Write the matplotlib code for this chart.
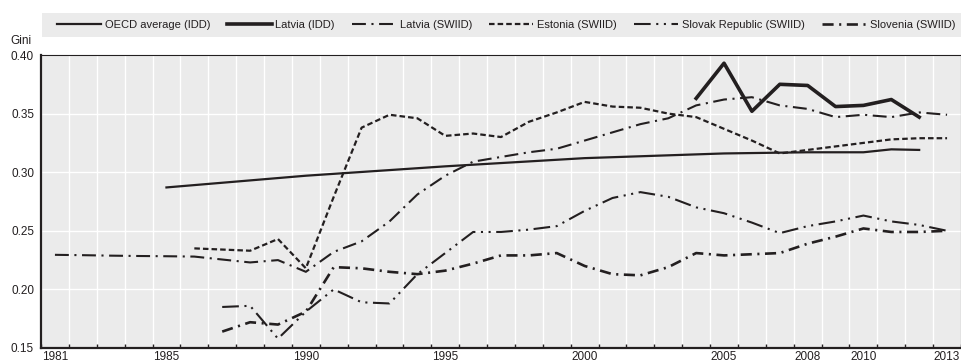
import matplotlib.pyplot as plt
import numpy as np
from matplotlib.patches import Rectangle

plt.rcParams['font.family'] = ['Liberation Sans Narrow', 'Liberation Sans', 'DejaVu Sans']
plt.rcParams['lines.scale_dashes'] = False

INK = '#231f20'
PANEL = '#ebebeb'

# OECD average (IDD)
oecd_years = [1985, 1990, 1995, 2000, 2005, 2008, 2009, 2010, 2011, 2012]
oecd_gini = [0.287, 0.297, 0.305, 0.312, 0.316, 0.317, 0.317, 0.317, 0.3195, 0.319]

# Latvia (IDD)
lva_idd_years = [2004, 2005, 2006, 2007, 2008, 2009, 2010, 2011, 2012]
lva_idd_gini = [0.363, 0.393, 0.352, 0.375, 0.374, 0.356, 0.357, 0.362, 0.347]

# SWIID series
lva_years = list(range(1981, 2014))
lva_gini = [0.2295, 0.2292, 0.2288, 0.2285, 0.2283, 0.228, 0.2255, 0.223, 0.225, 0.215,
            0.232, 0.241, 0.258, 0.281, 0.297, 0.309, 0.313, 0.317, 0.320, 0.327,
            0.334, 0.341, 0.346, 0.357, 0.362, 0.364, 0.357, 0.354, 0.347, 0.349,
            0.347, 0.351, 0.349]

est_years = list(range(1986, 2014))
est_gini = [0.235, 0.234, 0.233, 0.243, 0.218, 0.279, 0.338, 0.349, 0.346, 0.331,
            0.333, 0.330, 0.343, 0.351, 0.360, 0.356, 0.355, 0.350, 0.347, 0.337,
            0.327, 0.316, 0.319, 0.322, 0.325, 0.328, 0.329, 0.329]

svk_years = list(range(1987, 2014))
svk_gini = [0.185, 0.186, 0.158, 0.181, 0.200, 0.189, 0.188, 0.213, 0.231, 0.249,
            0.249, 0.251, 0.254, 0.267, 0.278, 0.283, 0.279, 0.270, 0.265, 0.257,
            0.248, 0.254, 0.258, 0.263, 0.258, 0.255, 0.250]

svn_years = list(range(1987, 2014))
svn_gini = [0.164, 0.172, 0.170, 0.181, 0.219, 0.218, 0.215, 0.213, 0.216, 0.222,
            0.229, 0.229, 0.231, 0.220, 0.213, 0.212, 0.219, 0.231, 0.229, 0.230,
            0.231, 0.239, 0.245, 0.252, 0.249, 0.249, 0.250]

label_years = [1981, 1985, 1990, 1995, 2000, 2005, 2008, 2010, 2013]
y_ticks = [0.15, 0.20, 0.25, 0.30, 0.35, 0.40]

fig = plt.figure(figsize=(9.62, 3.64), dpi=100)
ax = fig.add_axes([41 / 962, 16 / 364, 920 / 962, 293 / 364])
ax.set_facecolor(PANEL)

ax.plot(oecd_years, oecd_gini, color=INK, lw=1.6, label='OECD average (IDD)')
ax.plot(lva_idd_years, lva_idd_gini, color=INK, lw=2.6, label='Latvia (IDD)')
ax.plot(lva_years, lva_gini, color=INK, lw=1.5, dashes=(10, 4, 1.5, 4),
        label='Latvia (SWIID)')
ax.plot(est_years, est_gini, color=INK, lw=1.6, dashes=(4, 2.2), label='Estonia (SWIID)')
ax.plot(svk_years, svk_gini, color=INK, lw=1.5, dashes=(12, 4, 1.5, 4, 1.5, 4),
        label='Slovak Republic (SWIID)')
ax.plot(svn_years, svn_gini, color=INK, lw=1.9, dashes=(8, 4, 1.5, 4),
        label='Slovenia (SWIID)')

ax.set_xlim(1980.5, 2013.5)
ax.set_ylim(0.15, 0.40)
ax.set_xticks(label_years)
ax.set_xticklabels([str(y) for y in label_years])
ax.set_xticks(np.arange(1980.5, 2014), minor=True)
ax.tick_params(axis='x', which='major', length=0, pad=2, labelsize=8.5, colors=INK)
ax.tick_params(axis='x', which='minor', direction='in', length=3, width=1, color=INK)
ax.set_yticks(y_ticks)
ax.set_yticklabels([f'{v:.2f}' for v in y_ticks])
ax.tick_params(axis='y', length=0, pad=5, labelsize=8.5, colors=INK)

ax.grid(True, which='minor', axis='x', color='white', lw=1)
ax.grid(True, which='major', axis='y', color='white', lw=1)
ax.set_axisbelow(True)

for side in ['top', 'right']:
    ax.spines[side].set_linewidth(0.8)
for side in ['left', 'bottom']:
    ax.spines[side].set_linewidth(1.6)
for sp in ax.spines.values():
    sp.set_color(INK)

fig.text(21 / 962, 1 - 41 / 364, 'Gini', ha='center', va='center', fontsize=8.5, color=INK)

# grey band behind the legend, full plot width
fig.patches.append(Rectangle((42 / 962, 1 - 37 / 364), 919 / 962, 24 / 364,
                             transform=fig.transFigure, facecolor=PANEL,
                             edgecolor='none', zorder=0))
leg = fig.legend(loc='center', bbox_to_anchor=(506 / 962, 1 - 25 / 364),
                 ncol=6, frameon=False, fontsize=8, handlelength=4.0,
                 handletextpad=0.35, columnspacing=1.5, borderaxespad=0)
for t in leg.get_texts():
    t.set_color(INK)

fig.savefig('out.png', dpi=100)
